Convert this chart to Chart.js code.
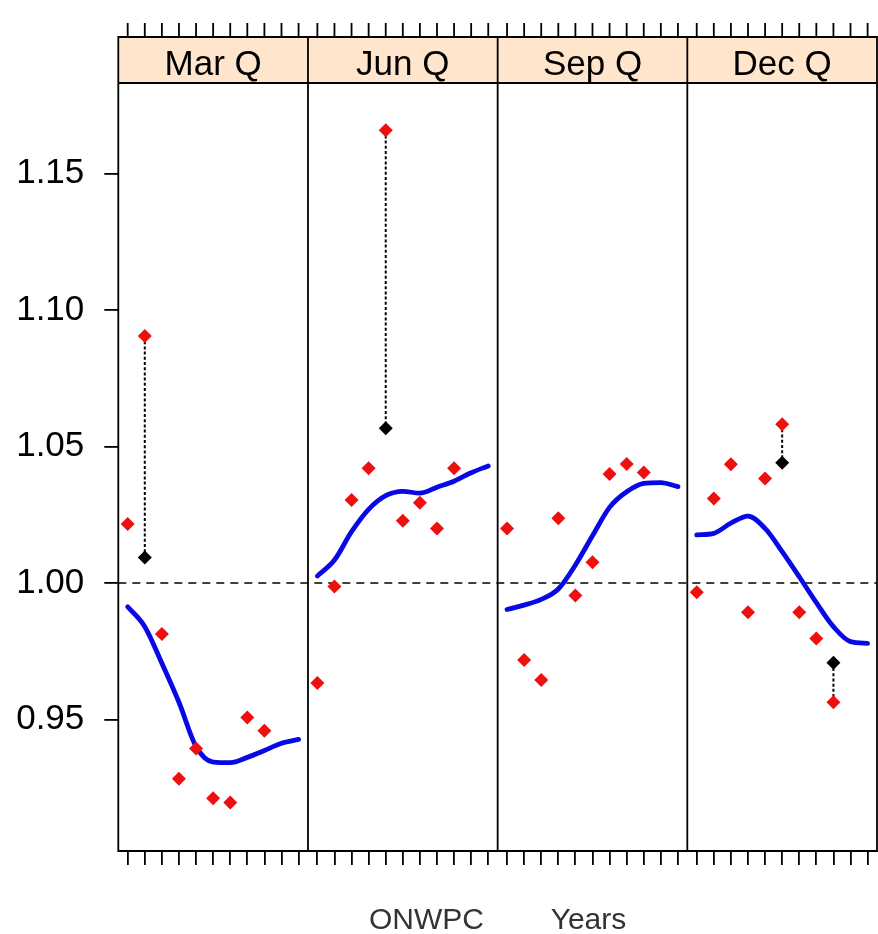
<!DOCTYPE html>
<html><head><meta charset="utf-8">
<script src="https://cdn.jsdelivr.net/npm/chart.js@4/dist/chart.umd.min.js"></script>
<style>html,body{margin:0;padding:0;background:#fff}canvas{display:block}</style>
</head><body>
<canvas id="c" width="878" height="934"></canvas>
<script>
// ---- data ----
const panels = ['Mar Q', 'Jun Q', 'Sep Q', 'Dec Q'];
const positions = [1, 2, 3, 4, 5, 6, 7, 8, 9, 10, 11];
const yTicks = [0.95, 1.00, 1.05, 1.10, 1.15];
const yMin = 0.9018, yMax = 1.1832;
const refValue = 1.0;
const xTitle = 'ONWPC        Years';

// observed (red) values, positions 1..9
const marObs = [1.0216, 1.0905, 0.9813, 0.9283, 0.9394, 0.9211, 0.9196, 0.9507, 0.9459];
const junObs = [0.9634, 0.9987, 1.0304, 1.0420, 1.1659, 1.0228, 1.0294, 1.0200, 1.0420];
const sepObs = [1.0200, 0.9718, 0.9645, 1.0237, 0.9954, 1.0076, 1.0399, 1.0436, 1.0405];
const decObs = [0.9966, 1.0310, 1.0435, 0.9893, 1.0383, 1.0582, 0.9893, 0.9797, 0.9563];

// adjusted (black) values for outliers
const marAdj = [null, 1.0093, null, null, null, null, null, null, null];
const junAdj = [null, null, null, null, 1.0567, null, null, null, null];
const sepAdj = [null, null, null, null, null, null, null, null, null];
const decAdj = [null, null, null, null, null, 1.0441, null, null, 0.9708];

// smoothed (blue) curve, positions 1..11
const marSmooth = [0.9913, 0.9840, 0.9706, 0.9563, 0.9401, 0.9344, 0.9342, 0.9361, 0.9386, 0.9413, 0.9427];
const junSmooth = [1.0026, 1.0084, 1.0188, 1.0270, 1.0320, 1.0336, 1.0329, 1.0351, 1.0373, 1.0404, 1.0429];
const sepSmooth = [0.9903, 0.9919, 0.9940, 0.9978, 1.0066, 1.0173, 1.0277, 1.0334, 1.0365, 1.0368, 1.0353];
const decSmooth = [1.0176, 1.0182, 1.0219, 1.0245, 1.0200, 1.0115, 1.0023, 0.9928, 0.9840, 0.9785, 0.9779];

const observed = [marObs, junObs, sepObs, decObs];
const adjusted = [marAdj, junAdj, sepAdj, decAdj];
const smooth = [marSmooth, junSmooth, sepSmooth, decSmooth];

// ---- layout in data units ----
const PAD = 0.55;
const SPAN = (positions[positions.length - 1] - positions[0]) + 2 * PAD;
const xOf = (k, i) => k * SPAN + PAD + (positions[i] - positions[0]);
const xMax = panels.length * SPAN;

const FONT = "'Liberation Sans', Arial, Helvetica, sans-serif";
const RED = '#ee0f0f', BLUE = '#0808e6';

const datasets = [];
panels.forEach((p, k) => {
  datasets.push({
    type: 'scatter', label: p + ' obs', order: 0,
    data: observed[k].map((v, i) => ({x: xOf(k, i), y: v})),
    pointStyle: 'rectRot', pointRadius: 7, pointBackgroundColor: RED,
    pointBorderColor: RED, pointBorderWidth: 0, showLine: false
  });
  datasets.push({
    type: 'scatter', label: p + ' adj', order: 0,
    data: adjusted[k].map((v, i) => v == null ? null : ({x: xOf(k, i), y: v})).filter(d => d),
    pointStyle: 'rectRot', pointRadius: 7, pointBackgroundColor: '#000',
    pointBorderColor: '#000', pointBorderWidth: 0, showLine: false
  });
  const conn = [];
  adjusted[k].forEach((v, i) => {
    if (v == null) return;
    conn.push({x: xOf(k, i), y: observed[k][i]}, {x: xOf(k, i), y: v}, {x: xOf(k, i), y: null});
  });
  datasets.push({
    type: 'line', label: p + ' link', order: 1, data: conn,
    borderColor: '#000', borderWidth: 2, borderDash: [3, 2.2], pointRadius: 0,
    spanGaps: false, fill: false
  });
  datasets.push({
    type: 'line', label: p + ' smooth', order: 2,
    data: smooth[k].map((v, i) => ({x: xOf(k, i), y: v})),
    borderColor: BLUE, borderWidth: 4.8, pointRadius: 0, fill: false,
    cubicInterpolationMode: 'monotone', borderCapStyle: 'round', borderJoinStyle: 'round'
  });
});
datasets.push({
  type: 'line', label: 'reference', order: 3,
  data: [{x: 0, y: refValue}, {x: xMax, y: refValue}],
  borderColor: '#000', borderWidth: 1.6, borderDash: [8, 6], pointRadius: 0, fill: false
});

const xTickValues = [];
panels.forEach((p, k) => positions.forEach((q, i) => xTickValues.push(xOf(k, i))));

const latticePlugin = {
  id: 'lattice',
  afterDraw(chart) {
    const {ctx, chartArea: a, scales: {x}} = chart;
    const stripH = 46, tickLen = 14;
    const sTop = a.top - stripH;
    ctx.save();
    // strips
    panels.forEach((p, k) => {
      const l = x.getPixelForValue(k * SPAN), r = x.getPixelForValue((k + 1) * SPAN);
      ctx.fillStyle = '#ffe5cc';
      ctx.fillRect(l, sTop, r - l, stripH);
      ctx.fillStyle = '#000';
      ctx.font = '35px ' + FONT;
      ctx.textAlign = 'center';
      ctx.textBaseline = 'alphabetic';
      ctx.fillText(p, (l + r) / 2, a.top - 8);
    });
    // top ticks
    ctx.strokeStyle = '#000';
    ctx.lineWidth = 1.8;
    ctx.beginPath();
    xTickValues.forEach(v => {
      const px = x.getPixelForValue(v);
      ctx.moveTo(px, sTop);
      ctx.lineTo(px, sTop - tickLen);
    });
    ctx.stroke();
    // frame & dividers
    ctx.lineWidth = 1.8;
    ctx.beginPath();
    ctx.rect(a.left, sTop, a.right - a.left, a.bottom - sTop);
    ctx.moveTo(a.left, a.top); ctx.lineTo(a.right, a.top);
    for (let k = 1; k < panels.length; k++) {
      const px = x.getPixelForValue(k * SPAN);
      ctx.moveTo(px, sTop); ctx.lineTo(px, a.bottom);
    }
    ctx.stroke();
    ctx.restore();
  }
};

new Chart(document.getElementById('c'), {
  data: {datasets},
  options: {
    responsive: false, animation: false,
    layout: {autoPadding: false, padding: {top: 83, right: 1, bottom: 0, left: 0}},
    plugins: {legend: {display: false}, tooltip: {enabled: false}, title: {display: false}},
    scales: {
      x: {
        type: 'linear', position: 'bottom', min: 0, max: xMax,
        afterBuildTicks: s => { s.ticks = xTickValues.map(v => ({value: v})); },
        ticks: {display: false, autoSkip: false},
        grid: {drawOnChartArea: false, drawTicks: true, tickLength: 14, color: '#000', lineWidth: 1.8},
        border: {display: false},
        title: {display: true, text: xTitle, color: '#333',
                font: {family: FONT, size: 30, lineHeight: 0.8}, padding: {top: 44, bottom: 1}}
      },
      y: {
        type: 'linear', position: 'left', min: yMin, max: yMax,
        afterBuildTicks: s => { s.ticks = yTicks.map(v => ({value: v})); },
        afterFit: s => { s.width = 118.3; },
        ticks: {color: '#000', padding: 20, font: {family: FONT, size: 35},
                callback: v => Number(v).toFixed(2)},
        grid: {drawOnChartArea: false, drawTicks: true, tickLength: 14, color: '#000', lineWidth: 1.8},
        border: {display: false}
      }
    }
  },
  plugins: [latticePlugin]
});
</script>
</body></html>
